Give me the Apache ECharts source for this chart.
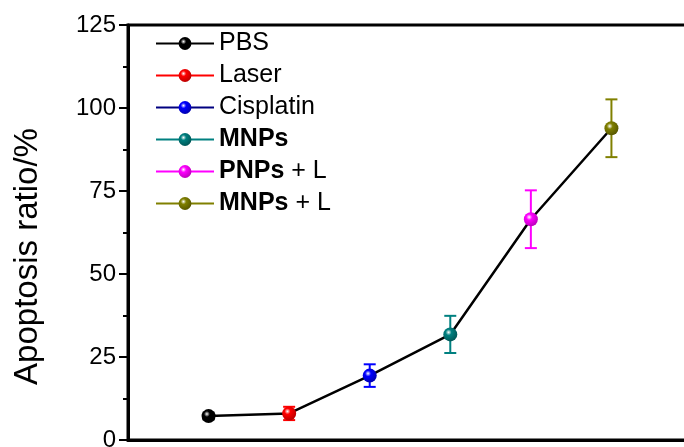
<!DOCTYPE html>
<html>
<head>
<meta charset="utf-8">
<script src="https://cdn.jsdelivr.net/npm/echarts@6/dist/echarts.min.js"></script>
<style>html,body{margin:0;padding:0;background:#fff;}#c{width:684px;height:447px;}</style>
</head>
<body>
<div id="c"></div>
<script>
var categories = ['PBS', 'Laser', 'Cisplatin', 'MNPs', 'PNPs + L', 'MNPs + L'];
var positions = [1, 2, 3, 4, 5, 6];
var values = [7.2, 8.0, 19.4, 31.8, 66.5, 93.9];
var errors = [1.0, 2.0, 3.4, 5.6, 8.7, 8.7];
var yTicks = [0, 25, 50, 75, 100, 125];

var colors = ['#000000', '#ff0000', '#0000ff', '#008080', '#ff00ff', '#808000'];
var lineColors = ['#000000', '#ff0000', '#000080', '#008080', '#ff00ff', '#808000'];
var darkColors = ['#000000', '#b00000', '#0000a0', '#005050', '#b000b0', '#505000'];

function sphere(i) {
  return {
    type: 'radial', x: 0.38, y: 0.35, r: 0.75,
    colorStops: [
      { offset: 0, color: '#ffffff' },
      { offset: 0.28, color: colors[i] },
      { offset: 1, color: darkColors[i] }
    ]
  };
}

var chart = echarts.init(document.getElementById('c'));
var series = [];

series.push({
  type: 'line',
  name: '_line',
  data: positions.map(function (p, i) { return [p, values[i]]; }),
  lineStyle: { color: '#000', width: 2.5 },
  symbol: 'none',
  z: 2,
  silent: true
});

series.push({
  type: 'custom',
  name: '_err',
  data: positions.map(function (p, i) { return [p, values[i] - errors[i], values[i] + errors[i], i]; }),
  renderItem: function (params, api) {
    var x = api.value(0);
    var lo = api.coord([x, api.value(1)]);
    var hi = api.coord([x, api.value(2)]);
    var c = colors[api.value(3)];
    var hw = 6;
    var st = { stroke: c, lineWidth: 2 };
    return {
      type: 'group',
      children: [
        { type: 'line', shape: { x1: lo[0], y1: lo[1], x2: hi[0], y2: hi[1] }, style: st },
        { type: 'line', shape: { x1: lo[0] - hw, y1: lo[1], x2: lo[0] + hw, y2: lo[1] }, style: st },
        { type: 'line', shape: { x1: hi[0] - hw, y1: hi[1], x2: hi[0] + hw, y2: hi[1] }, style: st }
      ]
    };
  },
  z: 3,
  silent: true
});

categories.forEach(function (name, i) {
  series.push({
    type: 'line',
    name: name,
    data: [[positions[i], values[i]]],
    symbol: 'circle',
    symbolSize: 14,
    showSymbol: true,
    itemStyle: { color: sphere(i) },
    lineStyle: { color: lineColors[i], width: 1.5 },
    z: 5
  });
});

chart.setOption({
  animation: false,
  backgroundColor: '#fff',
  grid: {
    left: 128, top: 25, width: 564, bottom: 7,
    outerBoundsMode: 'none',
    containLabel: false,
    show: true, borderColor: '#000', borderWidth: 3
  },
  legend: {
    orient: 'vertical',
    left: 150, top: 26,
    itemWidth: 58, itemHeight: 16,
    itemGap: 7,
    data: categories,
    textStyle: {
      fontFamily: 'Liberation Sans, Arial, sans-serif',
      fontSize: 25, color: '#000', lineHeight: 24,
      rich: { b: { fontWeight: 'bold', fontSize: 25, fontFamily: 'Liberation Sans, Arial, sans-serif', color: '#000', lineHeight: 24 } }
    },
    formatter: function (name) {
      return name.replace(/^(MNPs|PNPs)/, '{b|$1}');
    }
  },
  xAxis: {
    type: 'value', min: 0, max: 7,
    axisLine: { show: true, lineStyle: { color: '#000', width: 3 } },
    axisTick: { show: false },
    axisLabel: { show: false },
    splitLine: { show: false }
  },
  yAxis: {
    type: 'value', min: 0, max: 125, interval: 25,
    name: 'Apoptosis ratio/%',
    nameLocation: 'middle',
    nameGap: 84,
    nameTextStyle: { fontFamily: 'Liberation Sans, Arial, sans-serif', fontSize: 33, color: '#000', padding: [0, 48, 0, 0] },
    axisLine: { show: true, lineStyle: { color: '#000', width: 3 } },
    axisTick: { show: true, inside: false, length: 9, lineStyle: { color: '#000', width: 2 } },
    minorTick: { show: true, splitNumber: 2, length: 5, lineStyle: { color: '#000', width: 2 } },
    axisLabel: {
      fontFamily: 'Liberation Sans, Arial, sans-serif', fontSize: 24, color: '#000', margin: 12,
      formatter: function (v) { return yTicks.indexOf(v) >= 0 ? String(v) : ''; }
    },
    splitLine: { show: false }
  },
  series: series
});
</script>
</body>
</html>
